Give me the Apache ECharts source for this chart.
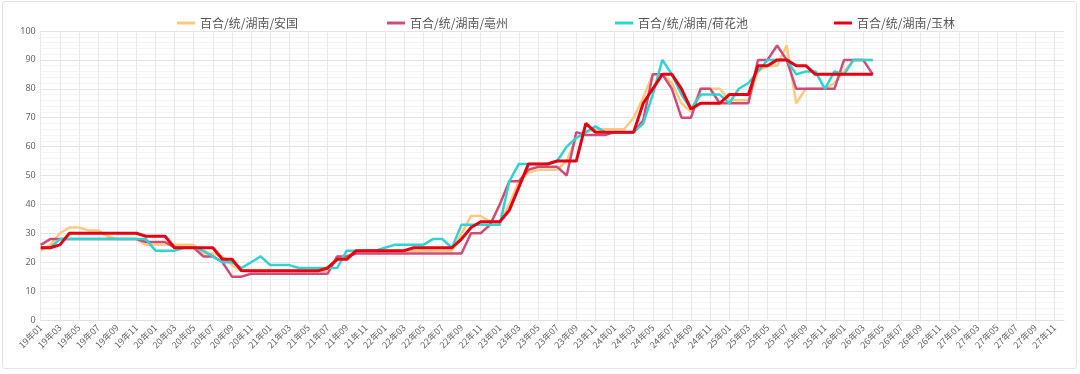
<!DOCTYPE html>
<html>
<head>
<meta charset="utf-8">
<script src="https://cdn.jsdelivr.net/npm/echarts@6/dist/echarts.min.js"></script>
<style>
html,body{margin:0;padding:0;background:#fff;}
#frame{position:absolute;left:2px;top:1px;width:1073px;height:366px;border:1px solid #e3e3e3;border-radius:3px;pointer-events:none;}
#chart{position:absolute;left:0;top:0;width:1080px;height:374px;}
</style>
</head>
<body>
<div id="chart"></div>
<div id="frame"></div>
<script>
const categories = [
'19年01','19年02','19年03','19年04','19年05','19年06','19年07','19年08','19年09','19年10','19年11','19年12',
'20年01','20年02','20年03','20年04','20年05','20年06','20年07','20年08','20年09','20年10','20年11','20年12',
'21年01','21年02','21年03','21年04','21年05','21年06','21年07','21年08','21年09','21年10','21年11','21年12',
'22年01','22年02','22年03','22年04','22年05','22年06','22年07','22年08','22年09','22年10','22年11','22年12',
'23年01','23年02','23年03','23年04','23年05','23年06','23年07','23年08','23年09','23年10','23年11','23年12',
'24年01','24年02','24年03','24年04','24年05','24年06','24年07','24年08','24年09','24年10','24年11','24年12',
'25年01','25年02','25年03','25年04','25年05','25年06','25年07','25年08','25年09','25年10','25年11','25年12',
'26年01','26年02','26年03','26年04','26年05','26年06','26年07','26年08','26年09','26年10','26年11','26年12',
'27年01','27年02','27年03','27年04','27年05','27年06','27年07','27年08','27年09','27年10','27年11','27年12'
];
const seriesNames = ['百合/统/湖南/安国','百合/统/湖南/亳州','百合/统/湖南/荷花池','百合/统/湖南/玉林'];
const anguo = [24,26,30,32,32,31,31,29,28,28,28,26,26,26,26,26,26,23,23,22,19,17,17,17,17,17,17,17,17,17,17,21,22,24,24,24,24,24,24,24,24,24,24,24,30,36,36,34,34,40,48,51,52,52,52,55,63,65,66,66,66,66,70,77,85,85,82,75,72,80,80,80,76,76,76,86,88,88,95,75,80,80,80,82,86,90,90,90];
const bozhou = [26,28,28,28,28,28,28,28,28,28,28,27,27,27,25,25,25,22,22,20,15,15,16,16,16,16,16,16,16,16,16,22,22,23,23,23,23,23,23,23,23,23,23,23,23,30,30,33,40,48,48,52,53,53,53,50,65,64,64,64,65,65,65,69,85,85,80,70,70,80,80,75,75,75,75,90,90,95,90,80,80,80,80,80,90,90,90,85];
const hehuachi = [25,25,28,28,28,28,28,28,28,28,28,28,24,24,24,25,25,24,22,20,20,18,20,22,19,19,19,18,18,18,18,18,24,24,24,24,25,26,26,26,26,28,28,25,33,33,33,33,33,48,54,54,54,54,55,60,63,65,67,65,65,65,65,68,78,90,85,78,73,78,78,78,75,80,82,86,90,90,90,85,86,86,80,86,85,90,90,90];
const yulin = [25,25,26,30,30,30,30,30,30,30,30,29,29,29,25,25,25,25,25,21,21,17,17,17,17,17,17,17,17,17,18,21,21,24,24,24,24,24,24,25,25,25,25,25,28,32,34,34,34,38,46,54,54,54,55,55,55,68,65,65,65,65,65,75,80,85,85,80,73,75,75,75,78,78,78,88,88,90,90,88,88,85,85,85,85,85,85,85];
const yTicks = [0,10,20,30,40,50,60,70,80,90,100];

const colors = ['#FCC97E','#D04B78','#2ED3D3','#E60012'];
const widths = [2.5,2.5,2.5,3];
const allData = [anguo, bozhou, hehuachi, yulin];
const legendLefts = [172, 382, 610, 829];

const chart = echarts.init(document.getElementById('chart'), null, {renderer:'canvas'});
chart.setOption({
  animation: false,
  backgroundColor: '#fff',
  color: colors,
  legend: seriesNames.map((n, k) => ({
    data: [n],
    left: legendLefts[k],
    top: 12,
    icon: 'rect',
    itemWidth: 18,
    itemHeight: 3,
    textStyle: {fontSize: 12, color: '#555', fontFamily: '"Noto Sans CJK SC", sans-serif'}
  })),
  grid: {left: 40.7, right: 16, top: 31, bottom: 54, containLabel: false},
  xAxis: {
    type: 'category',
    boundaryGap: false,
    data: categories,
    axisLine: {show: true, lineStyle: {color: '#e0e0e0'}},
    axisTick: {show: false},
    axisLabel: {interval: 1, rotate: 45, fontSize: 9, color: '#666', margin: 6, fontFamily: '"Noto Sans CJK SC", sans-serif'},
    splitLine: {show: true, interval: 1, lineStyle: {color: '#e8e8e8', width: 1}}
  },
  yAxis: {
    type: 'value',
    min: yTicks[0],
    max: yTicks[yTicks.length - 1],
    interval: 10,
    axisLine: {show: false},
    axisTick: {show: false},
    axisLabel: {fontSize: 9, color: '#666', margin: 5, fontFamily: '"Noto Sans", sans-serif'},
    splitLine: {show: true, lineStyle: {color: '#e4e4e4', width: 1}},
    minorTick: {show: false, splitNumber: 5},
    minorSplitLine: {show: true, lineStyle: {color: '#f3f3f3', width: 1}}
  },
  series: seriesNames.map((n, k) => ({
    name: n,
    type: 'line',
    data: allData[k],
    showSymbol: false,
    symbol: 'none',
    lineStyle: {width: widths[k], color: colors[k]},
    itemStyle: {color: colors[k]},
    z: 2 + k
  }))
});
</script>
</body>
</html>
